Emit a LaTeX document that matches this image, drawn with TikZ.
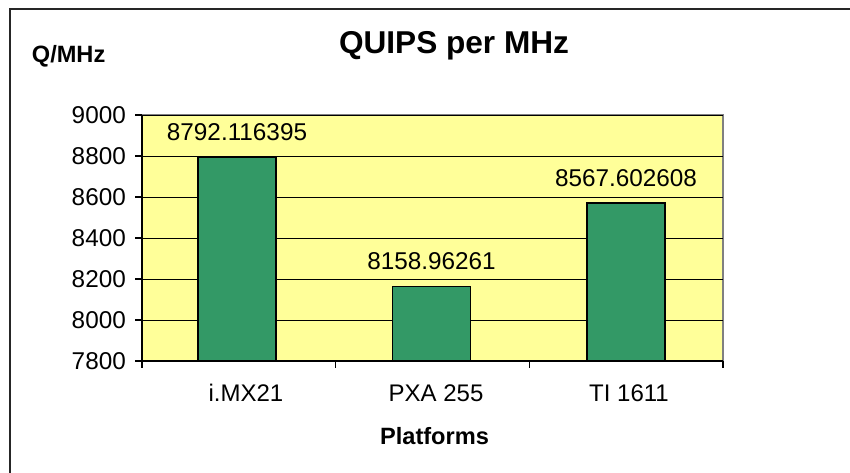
\documentclass[tikz,border=0pt]{standalone}
\usepackage{fontspec}
\setmainfont{Liberation Sans}
\definecolor{plotbg}{HTML}{FFFF99}
\definecolor{bargreen}{HTML}{339966}
\definecolor{framegray}{HTML}{808080}
\tikzset{
  bar/.style={draw=black, line width=1.3pt, fill=bargreen, inner sep=0pt, minimum width=78pt, anchor=south},
  vallabel/.style={anchor=base, inner sep=0pt, font=\fontsize{24.3}{29}\selectfont},
  ticklabel/.style={anchor=east, inner sep=0pt, font=\fontsize{24.3}{29}\selectfont},
  catlabel/.style={anchor=base, inner sep=0pt, font=\fontsize{24}{29}\selectfont},
  boldlabel/.style={inner sep=0pt, font=\bfseries\fontsize{23.6}{28}\selectfont},
  gridline/.style={black, line width=1pt},
  axisline/.style={black, line width=1.2pt},
}
\begin{document}
\begin{tikzpicture}[x=1pt,y=-1pt]
\useasboundingbox (0,0) rectangle (850,472);
\begin{scope}
  \clip (0,0) rectangle (850,472);
  \fill[white] (0,0) rectangle (850,472);
  \draw[line width=2pt, black!85] (10,8.5) rectangle (880,500);
\end{scope}
% plot area
\fill[plotbg] (142,115) rectangle (723,361);
\draw[framegray, line width=1.2pt] (142,115) -- (723,115) -- (723,361);
% gridlines and tick labels
\foreach \i/\v in {1/8000,2/8200,3/8400,4/8600,5/8800,6/9000} {
  \pgfmathsetmacro{\yy}{361-41*\i}
  \draw[gridline] (142,\yy) -- (723,\yy);
  \draw[axisline] (135,\yy) -- (142,\yy);
  \node[ticklabel] (t\v) at (126,\yy) {\v};
}
\node[ticklabel] (t7800) at (126,361) {7800};
% bars
\pgfmathsetmacro{\ha}{(8792.116395-7800)*0.205}
\pgfmathsetmacro{\hb}{(8158.96261-7800)*0.205}
\pgfmathsetmacro{\hc}{(8567.602608-7800)*0.205}
\node[bar, minimum height=\ha pt] (b1) at (237,361) {};
\node[bar, minimum height=\hb pt] (b2) at (431.5,361) {};
\node[bar, minimum height=\hc pt] (b3) at (626,361) {};
% axes
\draw[axisline] (142,115) -- (142,368);
\draw[axisline] (135,361) -- (723,361);
\foreach \x in {142,335.5,529.5,723} \draw[axisline] (\x,361) -- (\x,368);
% value labels
\node[vallabel, yshift=16.3pt] (v1) at (b1.north) {8792.116395};
\node[vallabel, yshift=16.3pt] (v2) at (b2.north) {8158.96261};
\node[vallabel, yshift=16.3pt] (v3) at (b3.north) {8567.602608};
% category labels
\node[catlabel] (c1) at (246,401.7) {i.MX21};
\node[catlabel] (c2) at (436,401.7) {PXA 255};
\node[catlabel] (c3) at (629,401.7) {TI 1611};
% titles
\node[inner sep=0pt, anchor=base, font=\bfseries\fontsize{31.6}{38}\selectfont] (title) at (454,53.5) {QUIPS per MHz};
\node[boldlabel, anchor=base west] (ylab) at (31.7,62) {Q/MHz};
\node[boldlabel, anchor=base] (xlab) at (434.5,444) {Platforms};
\end{tikzpicture}
\end{document}
